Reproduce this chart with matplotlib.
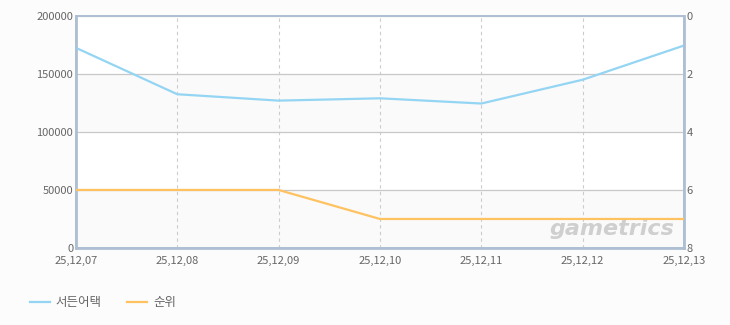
import matplotlib.pyplot as plt

plt.rcParams['font.family'] = ['Noto Sans CJK KR', 'DejaVu Sans']

# data
dates = ["25.12.07", "25.12.08", "25.12.09", "25.12.10", "25.12.11", "25.12.12", "25.12.13"]
users = [172500, 132500, 127000, 129000, 124500, 145000, 174500]
rank = [6, 6, 6, 7, 7, 7, 7]

fig = plt.figure(figsize=(7.3, 3.25), dpi=100, facecolor="#fcfcfc")
ax = fig.add_axes([0.104, 0.237, 0.833, 0.714])
ax.set_facecolor("white")

# alternating bands
for lo in (0, 100000):
    ax.axhspan(lo, lo + 50000, color="#fafafa", zorder=0)

x = range(len(dates))
ax.plot(x, users, color="#94d5f3", linewidth=1.6, zorder=3, label="서든어택")

ax.set_xlim(0, len(dates) - 1)
ax.set_ylim(0, 200000)
ax.set_yticks([0, 50000, 100000, 150000, 200000])
ax.set_xticks(list(x))
ax.set_xticklabels([d.replace(".", ",") for d in dates])

ax.grid(axis="y", color="#c8c8c8", linewidth=0.9, zorder=1)
ax.grid(axis="x", color="#cccccc", linewidth=0.8, linestyle=(0, (3, 3)), zorder=1)
ax.set_axisbelow(True)

ax2 = ax.twinx()
ax2.plot(x, rank, color="#ffc260", linewidth=1.6, zorder=3, label="순위")
ax2.set_ylim(8, 0)
ax2.set_yticks([0, 2, 4, 6, 8])

for a in (ax, ax2):
    a.tick_params(length=0, labelsize=8, colors="#666666", pad=2)
    for s in a.spines.values():
        s.set_color("#aebfd3")
        s.set_linewidth(1.2)
ax.tick_params(axis="x", pad=6)
ax.spines["left"].set_linewidth(2)
ax.spines["bottom"].set_linewidth(2)
ax2.spines["right"].set_linewidth(2)

# watermark
ax.text(0.985, 0.04, "gametrics", transform=ax.transAxes, ha="right", va="bottom",
        fontsize=16, fontweight="bold", style="italic", color="#cfcfcf",
        family="DejaVu Sans", zorder=2)

# legend below plot
h1, l1 = ax.get_legend_handles_labels()
h2, l2 = ax2.get_legend_handles_labels()
fig.legend(h1 + h2, l1 + l2, loc="lower left", bbox_to_anchor=(0.025, 0.015),
           ncol=2, frameon=False, fontsize=9, labelcolor="#666666",
           handlelength=1.6, handletextpad=0.5, columnspacing=2.0)

fig.savefig("out.png", dpi=100, facecolor=fig.get_facecolor())
